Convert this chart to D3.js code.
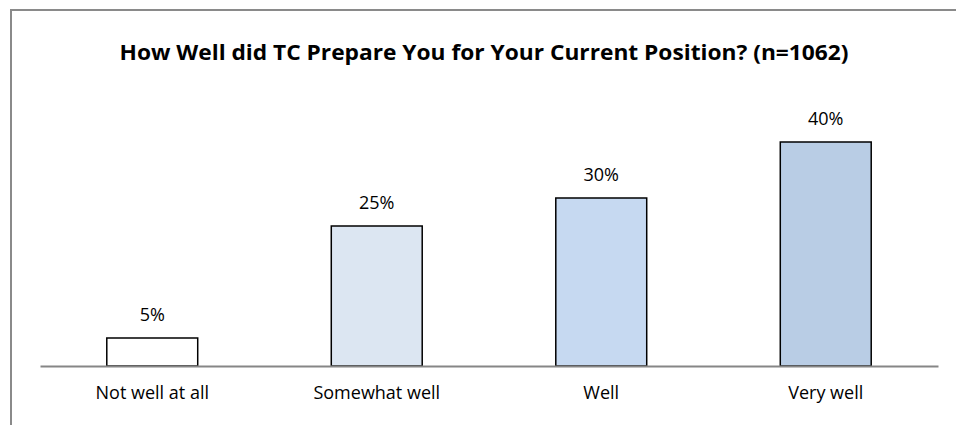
<!DOCTYPE html>
<html>
<head>
<meta charset="utf-8">
<script src="https://cdn.jsdelivr.net/npm/d3@7"></script>
<style>
  body { margin: 0; background: #fff; }
  text { font-family: "Open Sans", "Liberation Sans", sans-serif; fill: #000; }
</style>
</head>
<body>
<div class="chart"></div>
<script>
const categories = ['Not well at all', 'Somewhat well', 'Well', 'Very well'];
const values = [5, 25, 30, 40];
const fills = ['#ffffff', '#dce6f2', '#c6d9f1', '#b9cde5'];
const title = 'How Well did TC Prepare You for Your Current Position? (n=1062)';

const outerWidth = 956;
const outerHeight = 425;
const margin = { top: 142, right: 18, bottom: 59, left: 40 };
const innerWidth = outerWidth - margin.left - margin.right;
const innerHeight = outerHeight - margin.top - margin.bottom;

const svg = d3.select('.chart')
  .append('svg')
    .attr('width', outerWidth)
    .attr('height', outerHeight);

// chart frame, runs past the window on the right and bottom
svg.append('rect')
  .attr('x', 11)
  .attr('y', 10)
  .attr('width', 1000)
  .attr('height', 500)
  .attr('fill', 'none')
  .attr('stroke', '#8a8a8a')
  .attr('stroke-width', 2);

svg.append('text')
  .attr('x', 484)
  .attr('y', 60)
  .attr('text-anchor', 'middle')
  .style('font-size', '22px')
  .style('font-weight', 'bold')
  .attr('textLength', 729)
  .attr('lengthAdjust', 'spacingAndGlyphs')
  .text(title);

const chartG = svg.append('g')
  .attr('transform', `translate(${margin.left}, ${margin.top})`);

const x = d3.scaleBand()
  .domain(categories)
  .range([0, innerWidth])
  .paddingInner(0.595)
  .paddingOuter(0.2975);

const y = d3.scaleLinear()
  .domain([0, 40])
  .range([innerHeight, 0]);

chartG.selectAll('rect.bar')
  .data(values)
  .join('rect')
    .attr('class', 'bar')
    .attr('x', (d, i) => x(categories[i]))
    .attr('y', d => y(d))
    .attr('width', x.bandwidth())
    .attr('height', d => innerHeight - y(d))
    .attr('fill', (d, i) => fills[i])
    .attr('stroke', '#000')
    .attr('stroke-width', 1.5);

chartG.selectAll('text.val')
  .data(values)
  .join('text')
    .attr('class', 'val')
    .attr('x', (d, i) => x(categories[i]) + x.bandwidth() / 2)
    .attr('y', d => y(d) - 17)
    .attr('text-anchor', 'middle')
    .style('font-size', '18px')
    .text(d => d + '%');

const xAxis = chartG.append('g')
  .attr('transform', `translate(0, ${innerHeight})`)
  .call(d3.axisBottom(x).tickSize(0).tickPadding(20));

xAxis.select('.domain')
  .attr('stroke', '#868686')
  .attr('stroke-width', 2);

xAxis.selectAll('text')
  .style('font-size', '18px')
  .style('font-family', '"Open Sans", "Liberation Sans", sans-serif')
  .attr('fill', '#000');
</script>
</body>
</html>
